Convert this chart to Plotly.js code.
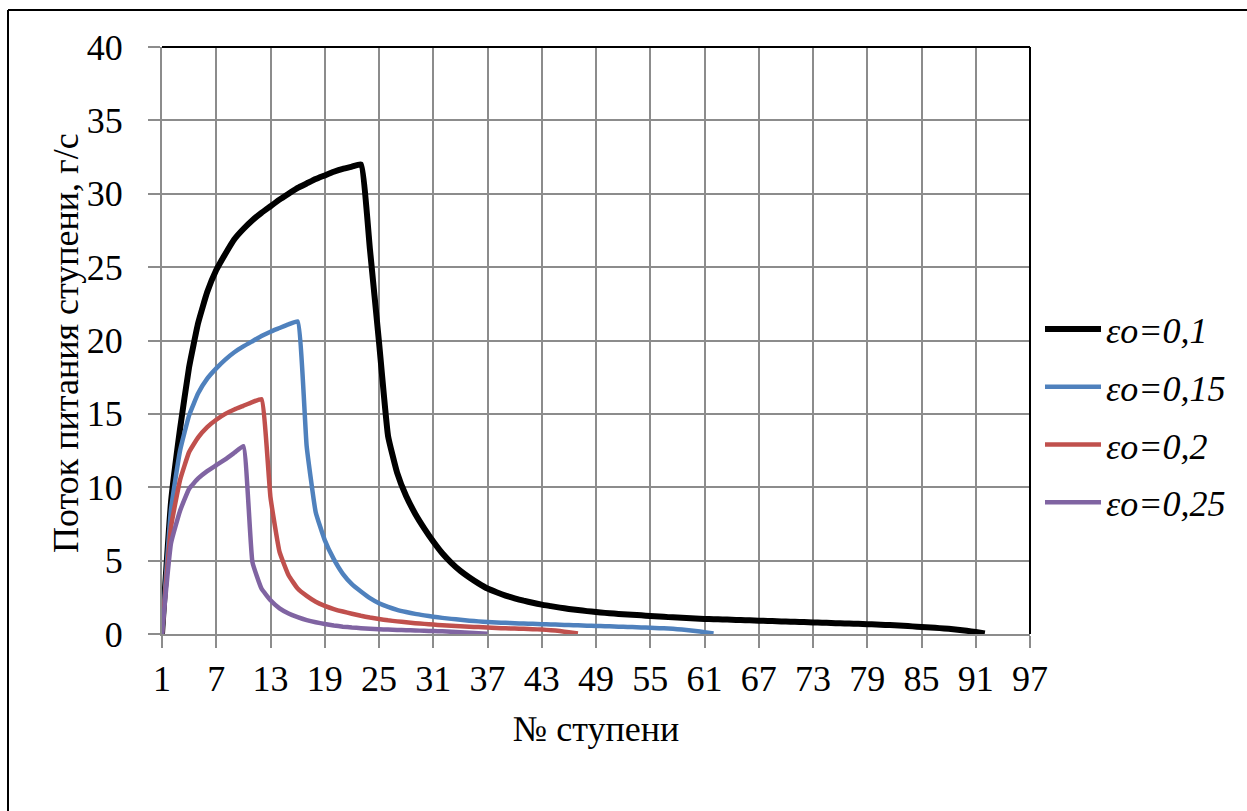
<!DOCTYPE html>
<html>
<head>
<meta charset="utf-8">
<script src="https://cdn.plot.ly/plotly-3.0.1.min.js"></script>
<style>
  html, body { margin: 0; padding: 0; background: #ffffff; }
  #chart { width: 1247px; height: 811px; }
  #chart .legendtext { font-family: 'Liberation Serif' !important; }
</style>
</head>
<body>
<div id="chart"></div>
<script>
const seriesNames = ['εo=0,1', 'εo=0,15', 'εo=0,2', 'εo=0,25'];

const flowEps010 = [0, 9, 14, 18.2, 21.2, 23.3, 24.8, 25.9, 26.9, 27.6,
  28.2, 28.7, 29.15, 29.6, 30.0, 30.4, 30.7, 31.0, 31.25, 31.5,
  31.7, 31.85, 32.0, 26.2, 19.9, 13.5, 11.0, 9.4, 8.2, 7.2,
  6.3, 5.5, 4.85, 4.3, 3.85, 3.45, 3.1, 2.85, 2.62, 2.43,
  2.27, 2.13, 2.0, 1.9, 1.8, 1.71, 1.63, 1.56, 1.5, 1.44,
  1.39, 1.35, 1.31, 1.27, 1.23, 1.19, 1.15, 1.12, 1.09, 1.06,
  1.03, 1.01, 0.99, 0.97, 0.95, 0.93, 0.91, 0.89, 0.87, 0.85,
  0.83, 0.81, 0.79, 0.77, 0.75, 0.73, 0.71, 0.69, 0.67, 0.65,
  0.62, 0.59, 0.56, 0.52, 0.48, 0.44, 0.4, 0.35, 0.29, 0.22,
  0.13, 0.03];

const flowEps015 = [0, 8.5, 12.5, 14.9, 16.4, 17.4, 18.1, 18.7, 19.2, 19.6,
  19.95, 20.3, 20.6, 20.85, 21.1, 21.3, 12.8, 8.3, 6.4, 5.1,
  4.1, 3.4, 2.9, 2.45, 2.1, 1.85, 1.65, 1.5, 1.37, 1.27,
  1.18, 1.1, 1.03, 0.97, 0.91, 0.86, 0.82, 0.79, 0.76, 0.73,
  0.71, 0.69, 0.67, 0.65, 0.63, 0.61, 0.59, 0.57, 0.55, 0.53,
  0.51, 0.49, 0.47, 0.45, 0.43, 0.4, 0.37, 0.33, 0.28, 0.21,
  0.12, 0.03];

const flowEps020 = [0, 7.3, 10.5, 12.4, 13.4, 14.1, 14.6, 15.0, 15.3, 15.55,
  15.8, 16.0, 9.3, 5.6, 4.0, 3.1, 2.6, 2.2, 1.92, 1.7,
  1.53, 1.38, 1.24, 1.12, 1.02, 0.93, 0.86, 0.8, 0.74, 0.69,
  0.64, 0.6, 0.56, 0.53, 0.5, 0.47, 0.44, 0.41, 0.39, 0.37,
  0.35, 0.33, 0.3, 0.26, 0.2, 0.12, 0.03];

const flowEps025 = [0, 6.2, 8.4, 9.9, 10.6, 11.1, 11.5, 11.9, 12.35, 12.8,
  4.9, 3.1, 2.3, 1.75, 1.4, 1.15, 0.95, 0.8, 0.68, 0.58,
  0.5, 0.44, 0.4, 0.36, 0.33, 0.3, 0.28, 0.26, 0.24, 0.22,
  0.2, 0.18, 0.15, 0.12, 0.09, 0.05, 0.02];

const xTickVals = [1, 7, 13, 19, 25, 31, 37, 43, 49, 55, 61, 67, 73, 79, 85, 91, 97];
const yTickVals = [0, 5, 10, 15, 20, 25, 30, 35, 40];
const yTitle = 'Поток питания ступени, г/с';
const xTitle = '№ ступени';

const allSeries = [flowEps010, flowEps015, flowEps020, flowEps025];
const colors = ['#000000', '#4F81BD', '#C0504D', '#8064A2'];
const widths = [6, 4.5, 4.5, 4.5];

const FONT = 'Liberation Serif';
const FS = 36;

const traces = allSeries.map((vals, k) => ({
  type: 'scatter',
  mode: 'lines',
  name: '<span style="font-family:Liberation Serif;font-style:italic">' + seriesNames[k] + '</span>',
  legendgroup: 'g' + k,
  x: vals.map((_, i) => i + 1),
  y: vals,
  line: { color: colors[k], width: widths[k], shape: 'spline', smoothing: 0.35 },
  hoverinfo: 'skip'
}));

const L = 162, R = 1030, T = 47, B = 634;
const pw = R - L, ph = B - T;
const px = v => (v - L) / pw;
const py = v => (B - v) / ph;

const layout = {
  width: 1247,
  height: 811,
  margin: { l: L, r: 1247 - R, t: T, b: 811 - B, pad: 0 },
  paper_bgcolor: '#ffffff',
  plot_bgcolor: '#ffffff',
  font: { family: FONT, size: FS, color: '#000000' },
  showlegend: true,
  legend: {
    x: px(1040), xanchor: 'left',
    y: py(299), yanchor: 'top',
    font: { family: FONT, size: FS, color: '#000000' },
    itemwidth: 56,
    bgcolor: 'rgba(0,0,0,0)',
    tracegroupgap: 8
  },
  xaxis: {
    range: [1, 97],
    tickmode: 'array',
    tickvals: xTickVals,
    ticktext: xTickVals.map(String),
    showgrid: true, gridcolor: '#8c8c8c', gridwidth: 2,
    zeroline: false, showline: true, linecolor: '#8c8c8c', linewidth: 2,
    ticks: 'outside', ticklen: 12, tickwidth: 2, tickcolor: '#8c8c8c',
    tickfont: { family: FONT, size: FS, color: '#000000' },
    title: { text: xTitle, font: { family: FONT, size: FS, color: '#000000' }, standoff: 18 },
    fixedrange: true
  },
  yaxis: {
    range: [0, 40],
    tickmode: 'array',
    tickvals: yTickVals,
    ticktext: yTickVals.map(v => String(v) + '\u2002'),
    showgrid: true, gridcolor: '#8c8c8c', gridwidth: 2,
    zeroline: false, showline: true, linecolor: '#8c8c8c', linewidth: 2,
    ticks: 'outside', ticklen: 12, tickwidth: 2, tickcolor: '#8c8c8c',
    tickfont: { family: FONT, size: FS, color: '#000000' },
    fixedrange: true
  },
  annotations: [
    { xref: 'paper', yref: 'paper', x: px(66), y: py(343), xanchor: 'center', yanchor: 'middle',
      textangle: -90, showarrow: false, text: yTitle, font: { family: FONT, size: FS, color: '#000000' } }
  ],
  shapes: [
    { type: 'line', xref: 'paper', yref: 'paper', x0: 0, x1: 1, y0: 1, y1: 1, line: { color: '#000000', width: 2 } },
    { type: 'line', xref: 'paper', yref: 'paper', x0: 1, x1: 1, y0: 0, y1: 1, line: { color: '#000000', width: 2 } },
    { type: 'line', xref: 'paper', yref: 'paper', x0: px(8), x1: px(1300), y0: py(10), y1: py(10), line: { color: '#000000', width: 2 } },
    { type: 'line', xref: 'paper', yref: 'paper', x0: px(8), x1: px(8), y0: py(10), y1: py(900), line: { color: '#000000', width: 2 } }
  ]
};

Plotly.newPlot('chart', traces, layout, { displayModeBar: false, staticPlot: true });
</script>
</body>
</html>
